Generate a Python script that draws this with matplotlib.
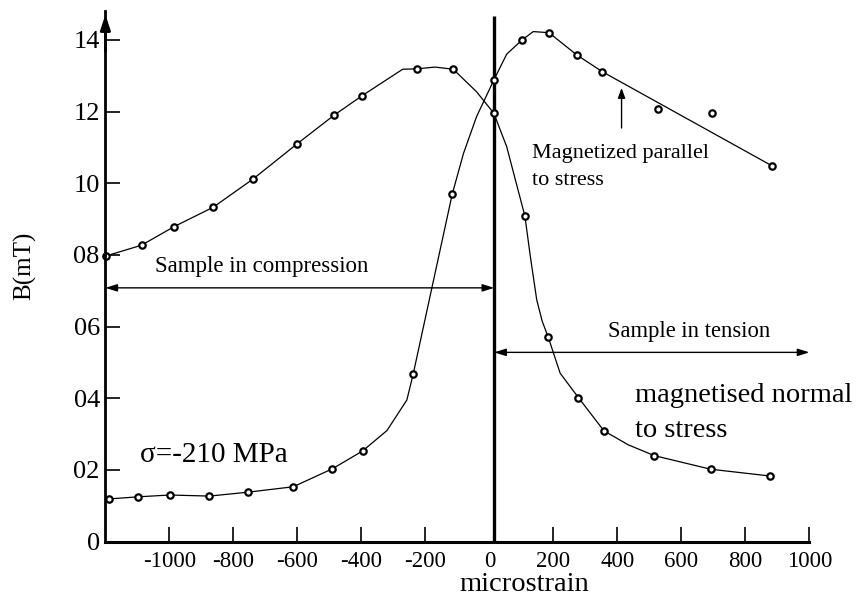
import matplotlib
matplotlib.use("Agg")
import matplotlib.pyplot as plt

plt.rcParams['font.family'] = ['Liberation Serif', 'DejaVu Serif']

# --- data ---
# curve magnetised normal to stress (markers)
normal_x = [-1198, -1087, -985, -863, -738, -602, -485, -398, -227, -113, 14, 111, 184, 278, 358, 515, 691, 877]
normal_y = [7.97, 8.27, 8.79, 9.33, 10.12, 11.09, 11.90, 12.44, 13.19, 13.18, 11.95, 9.08, 5.70, 4.02, 3.09, 2.40, 2.02, 1.83]
# hand-drawn fitted line through that curve
normal_line_x = [-1198, -1087, -985, -863, -738, -602, -485, -398, -271, -227, -170, -113, -40, 14, 54, 111, 128, 148, 165, 184, 221, 278, 358, 434, 515, 691, 877]
normal_line_y = [7.97, 8.27, 8.79, 9.33, 10.12, 11.09, 11.90, 12.44, 13.18, 13.19, 13.24, 13.18, 12.55, 11.95, 11.02, 9.08, 7.95, 6.74, 6.15, 5.70, 4.70, 4.02, 3.09, 2.70, 2.40, 2.02, 1.83]

# curve magnetized parallel to stress (markers)
parallel_x = [-1189, -1097, -998, -875, -753, -613, -491, -396, -238, -116, 14, 101, 186, 273, 353, 526, 697, 882]
parallel_y = [1.19, 1.25, 1.30, 1.27, 1.38, 1.53, 2.03, 2.53, 4.68, 9.70, 12.88, 13.99, 14.20, 13.58, 13.11, 12.06, 11.95, 10.49]
# hand-drawn fitted line
parallel_line_x = [-1200, -1189, -1097, -998, -875, -753, -613, -491, -396, -320, -258, -238, -180, -116, -81, -40, 14, 54, 101, 137, 186, 273, 353, 882]
parallel_line_y = [1.18, 1.19, 1.25, 1.30, 1.27, 1.38, 1.53, 2.03, 2.53, 3.10, 3.95, 4.68, 7.07, 9.70, 10.83, 11.86, 12.88, 13.60, 13.99, 14.23, 14.20, 13.58, 13.11, 10.49]

x_ticks = [-1000, -800, -600, -400, -200, 0, 200, 400, 600, 800, 1000]
x_tick_labels = ['-1000', '-800', '-600', '-400', '-200', '0', '200', '400', '600', '800', '1000']
x_tick_marks = [-1000, -800, -600, -400, -200, 200, 400, 600, 800, 1000]
y_ticks = [0, 2, 4, 6, 8, 10, 12, 14]
y_tick_labels = ['0', '02', '04', '06', '08', '10', '12', '14']

zero_line_x = 15
x_min, x_max = -1200, 1100
y_min, y_max = 0, 14.8

# --- figure ---
W, H = 862, 605
fig = plt.figure(figsize=(W / 100, H / 100), dpi=100)
px_per_x = 0.32
px_per_y = 35.84
ax_left = 105.4
ax_bottom = H - 541.6
ax = fig.add_axes([ax_left / W, ax_bottom / H,
                   (x_max - x_min) * px_per_x / W, (y_max - y_min) * px_per_y / H])
ax.set_xlim(x_min, x_max)
ax.set_ylim(y_min, y_max)

for s in ['top', 'right']:
    ax.spines[s].set_visible(False)
ax.spines['left'].set_linewidth(2.0)
ax.spines['bottom'].set_linewidth(2.2)
ax.spines['bottom'].set_bounds(x_min, 1000)

# x ticks: marks (no mark at 0) and labels
ax.set_xticks(x_tick_marks)
ax.set_xticklabels([])
ax.tick_params(axis='x', direction='in', length=11, width=1.2, pad=4)
for v, lab in zip(x_ticks, x_tick_labels):
    ax.annotate(lab, xy=(v, 0), xycoords='data', xytext=(0, -7), textcoords='offset points',
                ha='center', va='top', fontsize=16.5, annotation_clip=False)

ax.set_yticks(y_ticks)
ax.set_yticklabels(y_tick_labels, fontsize=19)
ax.tick_params(axis='y', direction='in', length=11, width=1.2, pad=4)
ax.yaxis.get_major_ticks()[0].tick1line.set_visible(False)

# arrow on top of y axis
ax.annotate('', xy=(x_min, 14.78), xytext=(x_min, 13.6),
            arrowprops=dict(arrowstyle='-|>,head_length=0.9,head_width=0.3', lw=2.0, color='black'),
            annotation_clip=False)

# vertical zero line
ax.plot([zero_line_x, zero_line_x], [0, 14.66], color='black', lw=2.4, solid_capstyle='butt', clip_on=False)

# curves
ax.plot(normal_line_x, normal_line_y, color='black', lw=0.9, clip_on=False)
ax.plot(parallel_line_x, parallel_line_y, color='black', lw=0.9, clip_on=False)
ax.plot(normal_x, normal_y, linestyle='none', marker='o', ms=4.6, mfc='white', mec='black', mew=1.6, clip_on=False)
ax.plot(parallel_x, parallel_y, linestyle='none', marker='o', ms=4.6, mfc='white', mec='black', mew=1.6, clip_on=False)

# double arrows
ax.annotate('', xy=(x_min, 7.08), xytext=(zero_line_x, 7.08),
            arrowprops=dict(arrowstyle='<|-|>,head_length=0.7,head_width=0.22', lw=1.0, color='black',
                            shrinkA=0, shrinkB=0), annotation_clip=False)
ax.annotate('', xy=(zero_line_x, 5.28), xytext=(1000, 5.28),
            arrowprops=dict(arrowstyle='<|-|>,head_length=0.7,head_width=0.22', lw=1.0, color='black',
                            shrinkA=0, shrinkB=0), annotation_clip=False)
ax.annotate('', xy=(413, 12.66), xytext=(413, 11.54),
            arrowprops=dict(arrowstyle='-|>,head_length=0.6,head_width=0.22', lw=1.0, color='black',
                            shrinkA=0, shrinkB=0), annotation_clip=False)

# texts
ax.text(-1045, 7.53, 'Sample in compression', fontsize=16.5, va='baseline', ha='left')
ax.text(372, 5.72, 'Sample in tension', fontsize=16.3, va='baseline', ha='left')
ax.text(132, 10.69, 'Magnetized parallel', fontsize=16, va='baseline', ha='left')
ax.text(132, 9.95, 'to stress', fontsize=16, va='baseline', ha='left')
ax.text(455, 3.90, 'magnetised normal', fontsize=20.5, va='baseline', ha='left')
ax.text(455, 2.93, 'to stress', fontsize=20.5, va='baseline', ha='left')
ax.text(-1092, 2.23, 'σ=-210 MPa', fontsize=21, va='baseline', ha='left')

fig.text(524 / W, 1 - 590.7 / H, 'microstrain', fontsize=20.5, ha='center', va='baseline')
fig.text(24.5 / W, 1 - 266 / H, 'B(mT)', fontsize=18, ha='center', va='center', rotation=90)

fig.savefig('out.png', dpi=100)
